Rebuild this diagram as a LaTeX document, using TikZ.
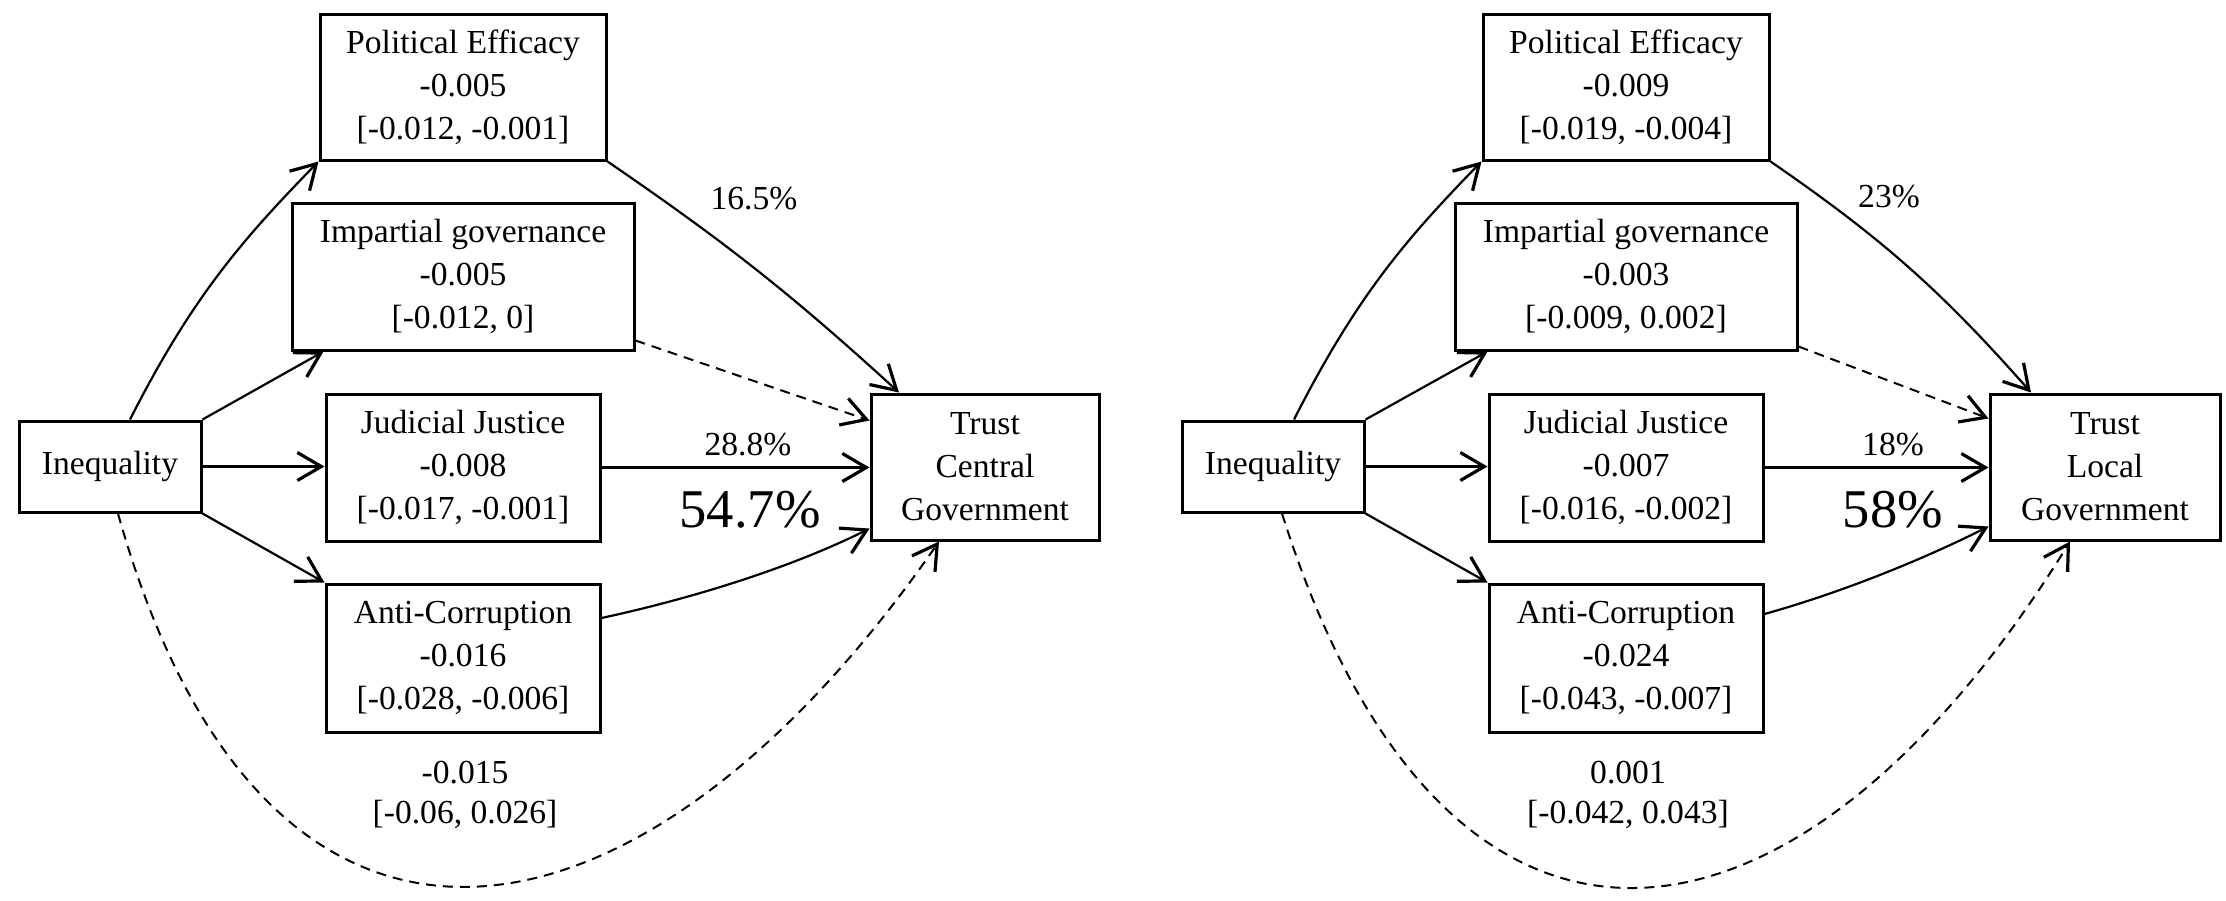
\documentclass[tikz,border=0pt]{standalone}
\usepackage{fontspec}
\setmainfont{Liberation Serif}
\usetikzlibrary{arrows.meta}
\begin{document}
\begin{tikzpicture}[x=0.5pt,y=-0.5pt,
  box/.style={draw, line width=1.5pt, inner sep=0pt, align=center, font=\fontsize{16.8}{21.5}\selectfont},
  lbl/.style={inner sep=0pt, align=center, font=\fontsize{16.8}{20}\selectfont},
  big/.style={inner sep=0pt, font=\fontsize{27.3}{30}\selectfont},
  conn/.style={line width=1.1pt, -{Straight Barb[length=12pt,width=14pt,line width=1.6pt]}},
  dsh/.style={conn, line width=1pt, dash pattern=on 5pt off 3.5pt}]
\useasboundingbox (0,0) rectangle (2226,900);

% ---------- left panel ----------
\node[box, minimum width=91pt, minimum height=45.5pt] (ineqL) at (110,466.5) {Inequality};
\node[box, minimum width=143pt, minimum height=73pt] (peL) at (463,87) {Political Efficacy\\-0.005\\{[-0.012, -0.001]}};
\node[box, minimum width=171pt, minimum height=73.5pt] (igL) at (463,276.5) {Impartial governance\\-0.005\\{[-0.012, 0]}};
\node[box, minimum width=137pt, minimum height=73.5pt] (jjL) at (463,467.5) {Judicial Justice\\-0.008\\{[-0.017, -0.001]}};
\node[box, minimum width=137pt, minimum height=74pt] (acL) at (463,658) {Anti-Corruption\\-0.016\\{[-0.028, -0.006]}};
\node[box, minimum width=114pt, minimum height=73pt] (trL) at (985,467) {Trust\\Central\\Government};

\draw[conn] ([xshift=10pt]ineqL.north) .. controls +(62,-122) and +(-77,79) .. (peL.south west);
\draw[conn] (ineqL.north east) -- ([xshift=16.5pt]igL.south west);
\draw[conn] (ineqL.east) -- (ineqL.east -| jjL.west);
\draw[conn] (ineqL.south east) -- (acL.north west);
\draw[conn] (peL.south east) to[bend left=4] ([xshift=-43pt]trL.north);
\draw[dsh] ([yshift=5.5pt]igL.south east) -- ([yshift=-14pt]trL.north west);
\draw[conn] (jjL.east) -- (jjL.east -| trL.west);
\draw[conn] ([yshift=20pt]acL.east) .. controls +(88,-19) and +(-80,40) .. ([yshift=6.5pt]trL.south west);
\draw[dsh] ([xshift=4pt]ineqL.south) .. controls +(146,522) and +(-302,435) .. ([xshift=-23pt]trL.south);

\node[lbl] (pctPEL) at (754,199) {16.5\%};
\node[lbl] (pctJJL) at (748,445) {28.8\%};
\node[big] (totL) at (750,510) {54.7\%};
\node[lbl] (dirL) at (465,795) {-0.015\\{[-0.06, 0.026]}};

% ---------- right panel ----------
\node[box, minimum width=91pt, minimum height=45.5pt] (ineqR) at (1273,466.5) {Inequality};
\node[box, minimum width=143pt, minimum height=73pt] (peR) at (1626,87) {Political Efficacy\\-0.009\\{[-0.019, -0.004]}};
\node[box, minimum width=171pt, minimum height=73.5pt] (igR) at (1626,276.5) {Impartial governance\\-0.003\\{[-0.009, 0.002]}};
\node[box, minimum width=137pt, minimum height=73.5pt] (jjR) at (1626,467.5) {Judicial Justice\\-0.007\\{[-0.016, -0.002]}};
\node[box, minimum width=137pt, minimum height=74pt] (acR) at (1626,658) {Anti-Corruption\\-0.024\\{[-0.043, -0.007]}};
\node[box, minimum width=115pt, minimum height=73pt] (trR) at (2105,467) {Trust\\Local\\Government};

\draw[conn] ([xshift=10.5pt]ineqR.north) .. controls +(62,-122) and +(-77,79) .. (peR.south west);
\draw[conn] (ineqR.north east) -- ([xshift=17pt]igR.south west);
\draw[conn] (ineqR.east) -- (ineqR.east -| jjR.west);
\draw[conn] (ineqR.south east) -- (acR.north west);
\draw[conn] (peR.south east) to[bend left=7] ([xshift=-37pt]trR.north);
\draw[dsh] ([yshift=2.5pt]igR.south east) -- ([yshift=-13pt]trR.north west);
\draw[conn] (jjR.east) -- (jjR.east -| trR.west);
\draw[conn] ([yshift=22pt]acR.east) .. controls +(75,-21) and +(-70,35) .. ([yshift=7.5pt]trR.south west);
\draw[dsh] ([xshift=4.5pt]ineqR.south) .. controls +(162,515) and +(-275,445) .. ([xshift=-17.5pt]trR.south);

\node[lbl] (pctPER) at (1889,197) {23\%};
\node[lbl] (pctJJR) at (1893,445) {18\%};
\node[big] (totR) at (1893,510) {58\%};
\node[lbl] (dirR) at (1628,795) {0.001\\{[-0.042, 0.043]}};
\end{tikzpicture}
\end{document}
